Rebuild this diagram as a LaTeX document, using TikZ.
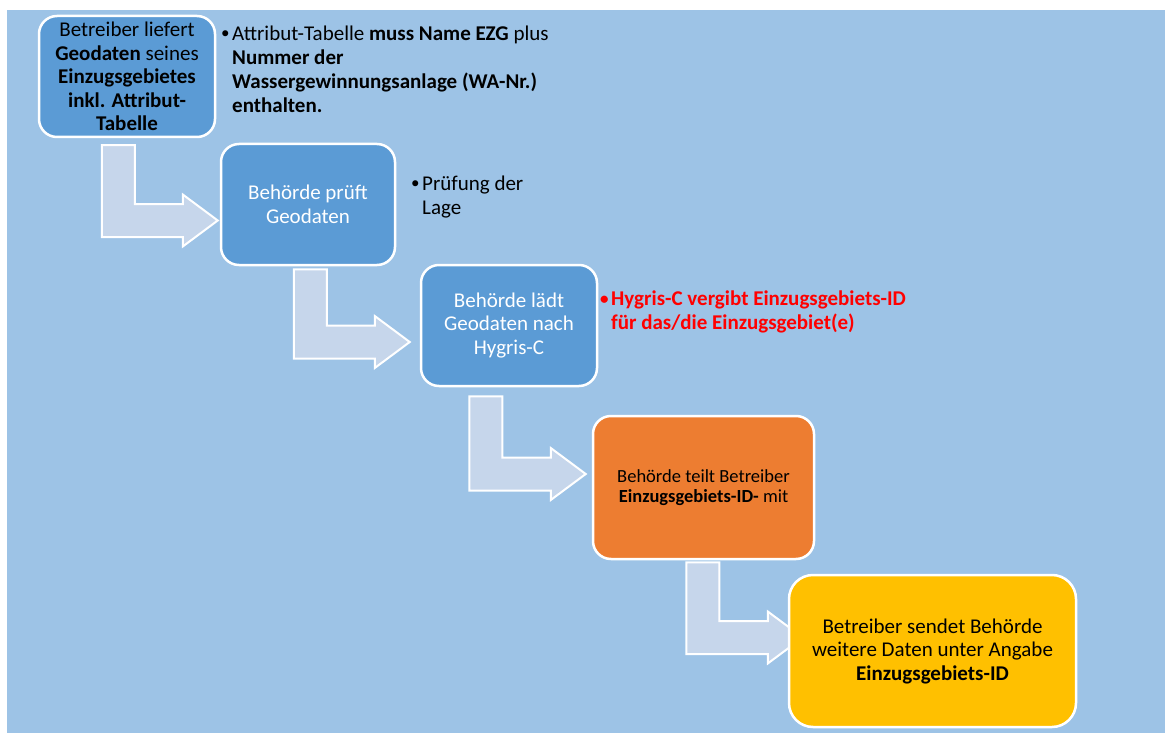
\documentclass[tikz,border=0pt]{standalone}
\usepackage{fontspec}
\setmainfont{Carlito}
\usepackage{xcolor}
\usetikzlibrary{calc, backgrounds}

\definecolor{bgblue}{HTML}{9DC3E6}
\definecolor{stepblue}{HTML}{5B9BD5}
\definecolor{steporange}{HTML}{ED7D31}
\definecolor{stepyellow}{HTML}{FFC000}
\definecolor{arrowfill}{HTML}{C6D6EB}

\newcommand{\notebullet}{\makebox[11pt][l]{\raisebox{1.5pt}{\fontsize{17}{17}\selectfont•}}}

\begin{document}
\begin{tikzpicture}[
    x=1pt, y=-1pt,
    stepbox/.style={draw=white, line width=2.5pt, rounded corners=18pt, align=center, inner sep=0pt, font=\fontsize{21}{23.5}\selectfont},
    note/.style={align=left, inner sep=0pt, anchor=west, font=\fontsize{21}{24}\selectfont},
    bentarr/.style={fill=arrowfill, draw=white, line width=2pt},
]
\useasboundingbox (0,0) rectangle (1165,733);

% Steps
\node[stepbox, fill=stepblue, minimum width=176pt, minimum height=121pt] (b1) at (127,76.5)
    {Betreiber liefert\\\textbf{Geodaten} seines\\\textbf{Einzugsgebietes}\\\textbf{inkl. Attribut-}\\\textbf{Tabelle}};
\node[stepbox, fill=stepblue, text=white, minimum width=174pt, minimum height=121pt] (b2) at (308,204.5)
    {Behörde prüft\\Geodaten};
\node[stepbox, fill=stepblue, text=white, minimum width=176pt, minimum height=121pt] (b3) at (509,325.5)
    {Behörde lädt\\Geodaten nach\\Hygris-C};
\node[stepbox, fill=steporange, minimum width=221pt, minimum height=143pt, font=\fontsize{18.5}{20.5}\selectfont] (b4) at (703.5,487.5)
    {Behörde teilt Betreiber\\\textbf{Einzugsgebiets-ID-} mit};
\node[stepbox, fill=stepyellow, minimum width=287pt, minimum height=152pt, rounded corners=24pt] (b5) at (932.5,651)
    {Betreiber sendet Behörde\\weitere Daten unter Angabe\\\textbf{Einzugsgebiets-ID}};

% Notes
\node[note] (n1) at (221,69)
    {\notebullet Attribut-Tabelle \textbf{muss Name EZG} plus\\\hspace*{11pt}\textbf{Nummer der}\\\hspace*{11pt}\textbf{Wassergewinnungsanlage (WA-Nr.)}\\\hspace*{11pt}\textbf{enthalten.}};
\node[note] (n2) at (411,197)
    {\notebullet Prüfung der\\\hspace*{11pt}Lage};
\node[note, text=red, font=\fontsize{21}{24}\selectfont\bfseries] (n3) at (600,312)
    {\notebullet Hygris-C vergibt Einzugsgebiets-ID\\\hspace*{11pt}für das/die Einzugsgebiet(e)};

% Bent arrows
\coordinate (a1s) at ([xshift=80.5pt, yshift=-7pt]b1.south west);
\coordinate (a1t) at ([xshift=-2pt, yshift=-16pt]b2.west);
\coordinate (a2s) at ([xshift=90.5pt, yshift=-3pt]b2.south west);
\coordinate (a2t) at ([xshift=-10pt, yshift=-16.5pt]b3.west);
\coordinate (a3s) at ([xshift=66pt, yshift=-9pt]b3.south west);
\coordinate (a3t) at ([xshift=-6pt, yshift=13.5pt]b4.west);
\coordinate (a4s) at ([xshift=111pt, yshift=-2pt]b4.south west);
\coordinate (a4t) at ([xshift=15pt, yshift=13.5pt]b5.west);

\begin{scope}[on background layer]
\fill[bgblue] (7,10) rectangle (1165,733);
\foreach \s/\t in {a1s/a1t, a2s/a2t, a3s/a3t, a4s/a4t}
    \path[bentarr] let \p1=(\s), \p2=(\t) in
        (\x1-16.5pt,\y1) -- (\x1-16.5pt,\y2-16.5pt) -- (\x2-35pt,\y2-16.5pt) -- (\x2-35pt,\y2-26pt)
        -- (\x2,\y2) -- (\x2-35pt,\y2+26pt) -- (\x2-35pt,\y2+16.5pt) -- (\x1+16.5pt,\y2+16.5pt)
        -- (\x1+16.5pt,\y1) -- cycle;
\end{scope}
\end{tikzpicture}
\end{document}
